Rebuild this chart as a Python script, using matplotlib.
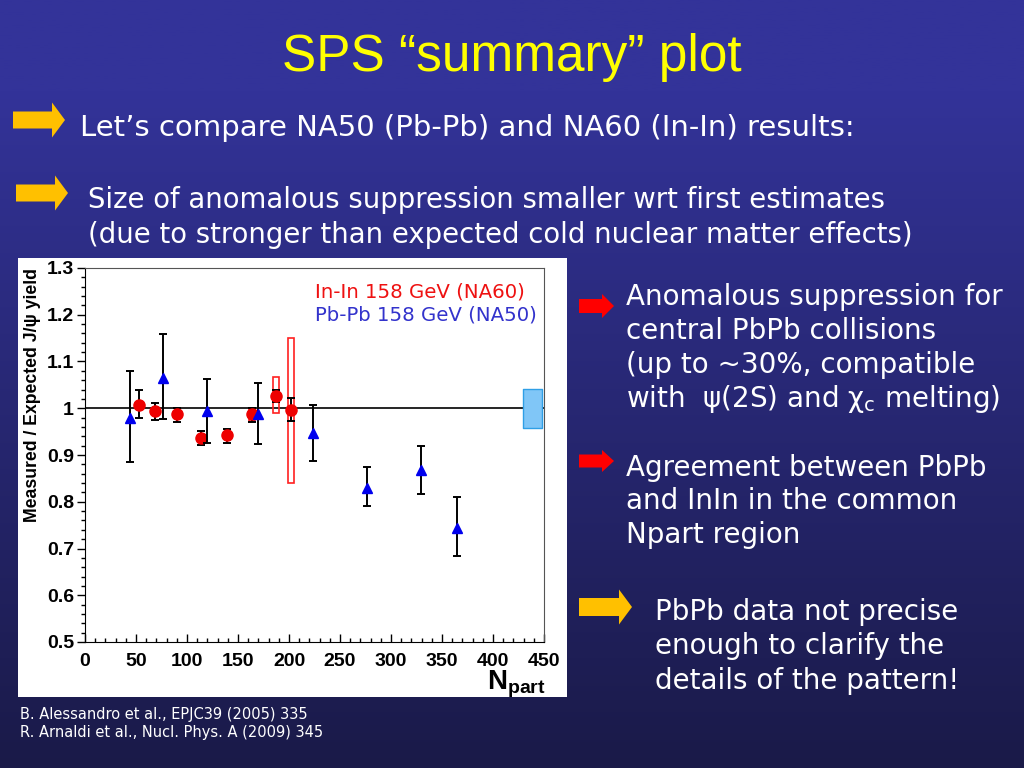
import numpy as np
import matplotlib
matplotlib.use('Agg')
from matplotlib import pyplot as plt
from matplotlib.patches import Rectangle, Polygon
from matplotlib.ticker import MultipleLocator, FuncFormatter

plt.rcParams['mathtext.fontset'] = 'custom'
plt.rcParams['mathtext.bf'] = 'Liberation Sans:bold'
plt.rcParams['mathtext.rm'] = 'DejaVu Sans'

# Pb-Pb 158 GeV (NA50)
pbpb_npart = [43.7, 76.4, 119.5, 169.7, 223.5, 276.5, 329.8, 365.0]
pbpb_ratio = [0.979, 1.065, 0.994, 0.988, 0.946, 0.830, 0.867, 0.744]
pbpb_hi = [1.079, 1.158, 1.063, 1.054, 1.006, 0.874, 0.920, 0.811]
pbpb_lo = [0.885, 0.978, 0.926, 0.924, 0.888, 0.790, 0.817, 0.684]

# In-In 158 GeV (NA60)
inin_npart = [53.4, 68.2, 90.2, 114.0, 139.1, 163.5, 187.0, 202.1]
inin_ratio = [1.008, 0.994, 0.987, 0.937, 0.942, 0.987, 1.027, 0.997]
inin_hi = [1.038, 1.011, 1.001, 0.952, 0.956, 1.001, 1.040, 1.021]
inin_lo = [0.980, 0.975, 0.970, 0.921, 0.926, 0.970, 1.013, 0.972]
inin_syst_hi = [np.nan, np.nan, np.nan, np.nan, np.nan, 0.999, 1.066, 1.150]
inin_syst_lo = [np.nan, np.nan, np.nan, np.nan, np.nan, 0.972, 0.989, 0.841]

# global normalisation band
norm_npart = [429, 448]
norm_lo = 0.957
norm_hi = 1.042

W, H = 1024, 768
fig = plt.figure(figsize=(W / 100, H / 100), dpi=100)

# slide background
bg = fig.add_axes([0, 0, 1, 1])
yy = np.linspace(0, H, 300)
t = np.clip((yy - 90) / (H - 90), 0, 1)[:, None]
top = np.array([51, 51, 153]) / 255
bot = np.array([26, 26, 72]) / 255
grad = top * (1 - t) + bot * t
bg.imshow(grad[:, None, :], extent=[0, W, H, 0], aspect='auto')
bg.set_xlim(0, W)
bg.set_ylim(H, 0)
bg.axis('off')
bg.add_patch(Rectangle((18, 258), 549, 439, facecolor='white', edgecolor='none'))


def block_arrow(x0, x1, yc, body, head, head_len, color):
    xs = x1 - head_len
    pts = [(x0, yc - body), (xs, yc - body), (xs, yc - head), (x1, yc),
           (xs, yc + head), (xs, yc + body), (x0, yc + body)]
    bg.add_patch(Polygon(pts, closed=True, facecolor=color, edgecolor='none'))


gold = '#ffc000'
block_arrow(13, 65, 120, 8.5, 17.5, 13, gold)
block_arrow(16, 68, 193, 8.5, 17.5, 13, gold)
block_arrow(579, 614, 306, 7, 12, 12, '#ff0000')
block_arrow(579, 614, 461, 6.5, 11, 12, '#ff0000')
block_arrow(579, 632, 607, 9, 17.5, 13, gold)


def px(x, y):
    return x / W, 1 - y / H


fig.text(*px(512, 57), 'SPS \u201csummary\u201d plot', color='#ffff00',
         fontsize=37, family='Liberation Sans', ha='center', va='center')
fig.text(*px(80, 128), 'Let\u2019s compare NA50 (Pb-Pb) and NA60 (In-In) results:',
         color='white', fontsize=21, family='DejaVu Sans', va='center')
fig.text(*px(88, 200), 'Size of anomalous suppression smaller wrt first estimates',
         color='white', fontsize=19.8, family='DejaVu Sans', va='center')
fig.text(*px(88, 235), '(due to stronger than expected cold nuclear matter effects)',
         color='white', fontsize=19.8, family='DejaVu Sans', va='center')

right_lines = [
    (626, 297, 'Anomalous suppression for'),
    (626, 331, 'central PbPb collisions'),
    (626, 365, '(up to ~30%, compatible'),
    (626, 399, 'with  \u03c8(2S) and \u03c7$_\\mathregular{c}$ melting)'),
    (626, 468, 'Agreement between PbPb'),
    (626, 501, 'and InIn in the common'),
    (626, 535, 'Npart region'),
    (655, 612, 'PbPb data not precise'),
    (655, 646, 'enough to clarify the'),
    (655, 681, 'details of the pattern!'),
]
for x, y, s in right_lines:
    fig.text(*px(x, y), s, color='white', fontsize=20, family='DejaVu Sans', va='center')

fig.text(*px(20, 714), 'B. Alessandro et al., EPJC39 (2005) 335', color='white',
         fontsize=10.5, family='DejaVu Sans', va='center')
fig.text(*px(20, 733), 'R. Arnaldi et al., Nucl. Phys. A (2009) 345', color='white',
         fontsize=10.5, family='DejaVu Sans', va='center')

# the plot itself
ax = fig.add_axes([85 / W, 1 - 642 / H, (544 - 85) / W, (642 - 268) / H])
ax.set_facecolor('white')
ax.set_xlim(0, 450)
ax.set_ylim(0.5, 1.3)
ax.axhline(1, color='black', lw=1.2, zorder=1)

ax.fill_between(norm_npart, norm_lo, norm_hi, facecolor='#80c6f7',
                edgecolor='#2f9fe6', lw=1, zorder=2)

for x, lo, hi in zip(inin_npart, inin_syst_lo, inin_syst_hi):
    if np.isfinite(lo):
        ax.add_patch(Rectangle((x - 3, lo), 6, hi - lo, fill=False,
                               edgecolor='#ff2020', lw=1.2, zorder=3))

iy = np.array(inin_ratio)
ax.errorbar(inin_npart, iy, yerr=[iy - np.array(inin_lo), np.array(inin_hi) - iy],
            fmt='o', ms=8, mfc='#ee0000', mec='#ee0000', ecolor='black',
            elinewidth=1.4, capsize=3, capthick=1.4, zorder=4)

py = np.array(pbpb_ratio)
ax.errorbar(pbpb_npart, py, yerr=[py - np.array(pbpb_lo), np.array(pbpb_hi) - py],
            fmt='^', ms=7, mfc='#0000ee', mec='#0000ee', ecolor='black',
            elinewidth=1.4, capsize=3, capthick=1.4, zorder=5)

ax.xaxis.set_major_locator(MultipleLocator(50))
ax.xaxis.set_minor_locator(MultipleLocator(10))
ax.yaxis.set_major_locator(MultipleLocator(0.1))
ax.yaxis.set_minor_locator(MultipleLocator(0.02))
ax.yaxis.set_major_formatter(FuncFormatter(lambda v, p: '%g' % round(v, 2)))
ax.tick_params(axis='y', which='major', direction='out', length=6, width=1, pad=2)
ax.tick_params(axis='y', which='minor', direction='out', length=3, width=1)
ax.tick_params(axis='x', which='major', direction='in', length=6, width=1, pad=8)
ax.tick_params(axis='x', which='minor', direction='in', length=3, width=1)
for lab in ax.get_xticklabels() + ax.get_yticklabels():
    lab.set_fontfamily('Liberation Sans')
    lab.set_fontweight('bold')
    lab.set_fontsize(14)
for side in ['top', 'right']:
    ax.spines[side].set_color('#555555')

ax.text(0.501, 0.935, 'In-In 158 GeV (NA60)', transform=ax.transAxes,
        color='#ee1111', fontsize=14.2, family='DejaVu Sans', va='center')
ax.text(0.501, 0.873, 'Pb-Pb 158 GeV (NA50)', transform=ax.transAxes,
        color='#3333cc', fontsize=14.2, family='DejaVu Sans', va='center')

fig.text(*px(33, 268), 'Measured / Expected J/\u03c8 yield', rotation=90,
         fontsize=12.7, fontweight='bold', family=['Liberation Sans', 'DejaVu Sans'],
         ha='center', va='top')
fig.text(*px(546, 684), r'$\mathbf{N}_{\mathbf{part}}$', fontsize=20,
         ha='right', va='center')

plt.savefig('out.png', dpi=100)
